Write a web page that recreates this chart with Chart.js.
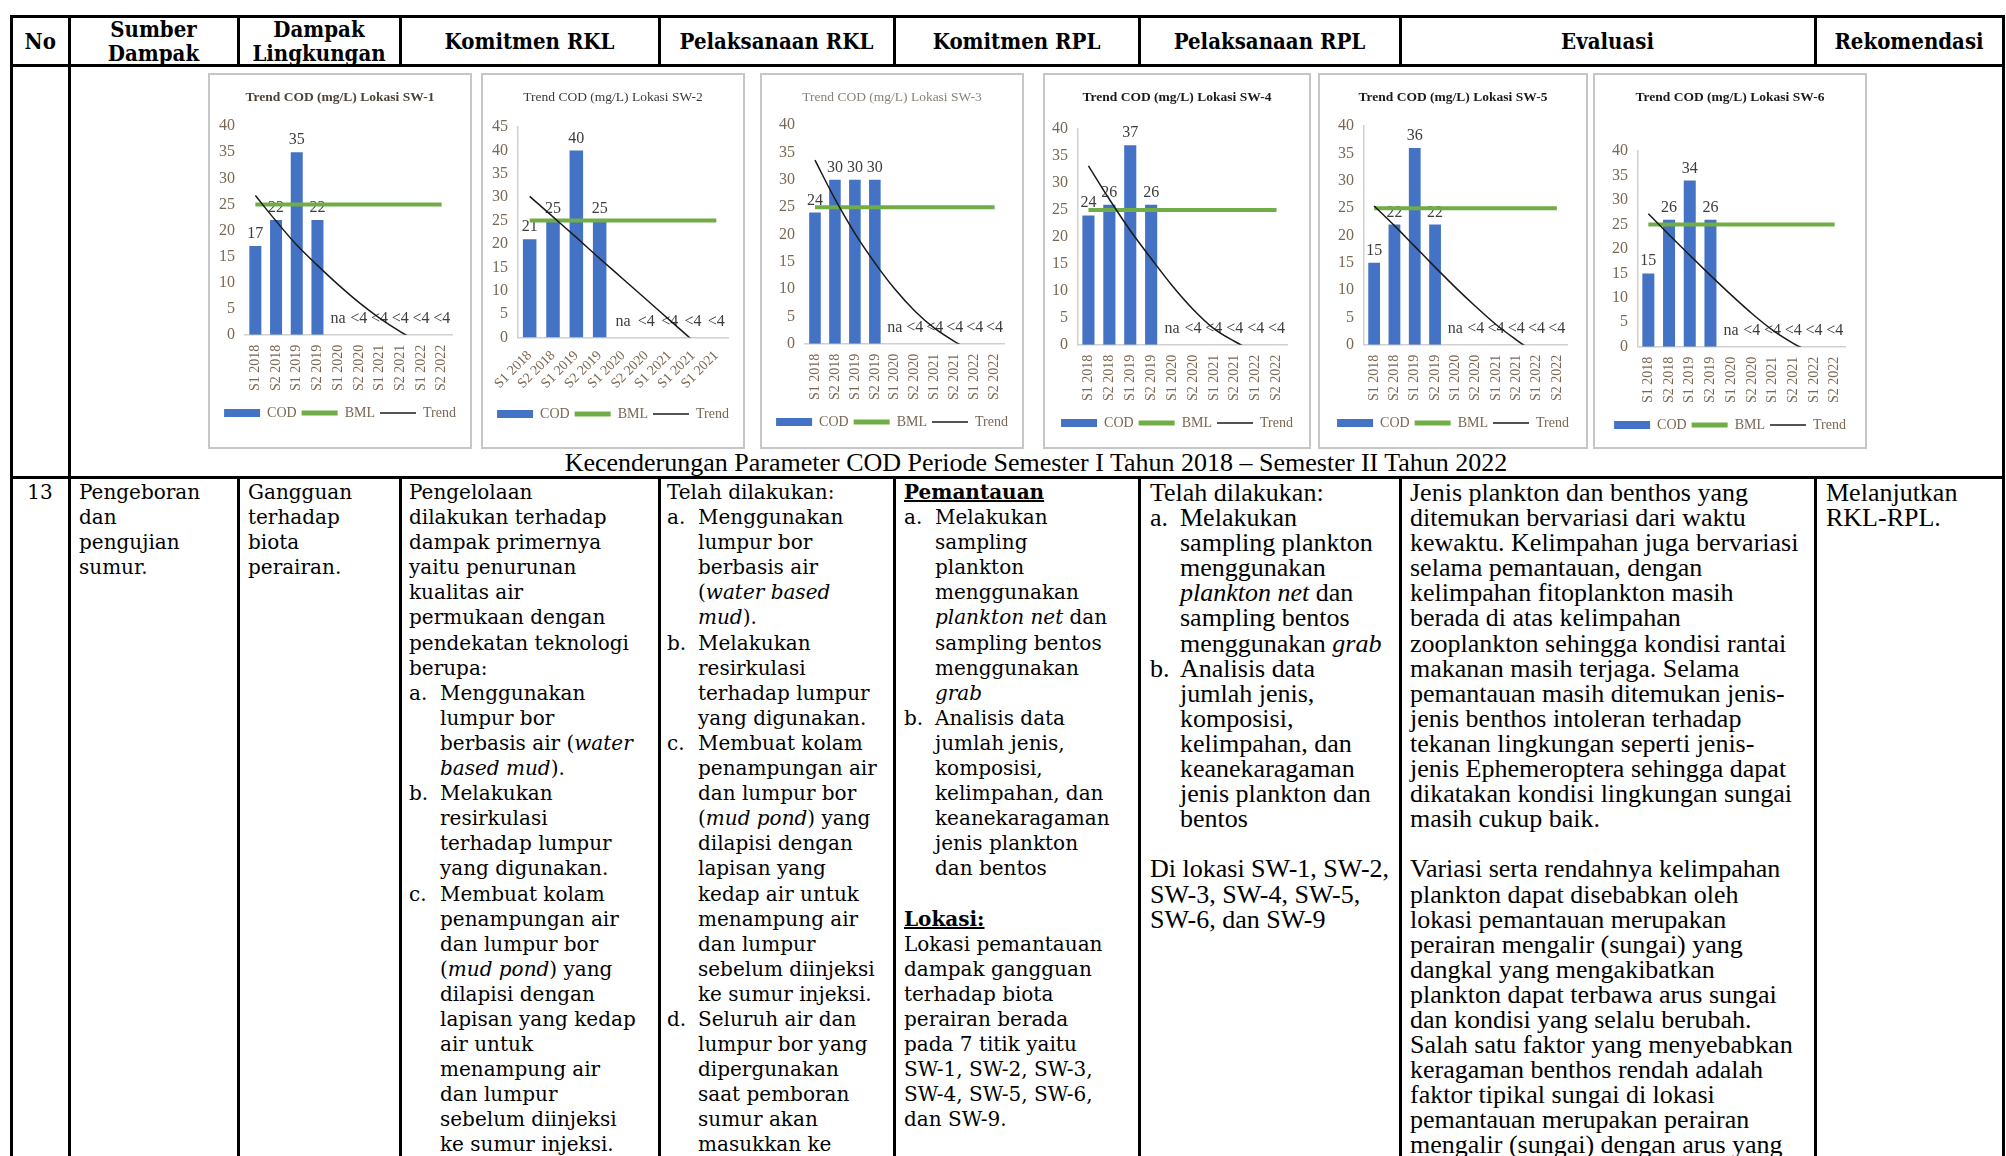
<!DOCTYPE html>
<html lang="id">
<head>
<meta charset="UTF-8">
<title>Kecenderungan Parameter COD</title>
<script src="https://cdn.jsdelivr.net/npm/chart.js@4"></script>
<style>
  body { margin:0; width:2006px; height:1156px; overflow:hidden; background:#fff; position:relative; color:#000; }
  .ln { position:absolute; background:#000; }
  .hd { position:absolute; top:17px; height:47px; display:flex; align-items:center; justify-content:center; text-align:center;
        font-family:'DejaVu Serif Condensed','DejaVu Serif',serif; font-stretch:condensed; font-weight:bold; font-size:22px; line-height:24px; }
  .box { position:absolute; top:73px; height:376px; border:2px solid #c6c6c6; box-sizing:border-box; background:#fff; }
  .box canvas { display:block; }
  .cap { position:absolute; left:69px; width:1934px; top:450px; text-align:center; font-family:'Liberation Serif',serif; font-size:26px; line-height:26px; white-space:nowrap; }
  .cell { position:absolute; top:480px; white-space:nowrap; line-height:25.1px; }
  .bk { font-family:'DejaVu Serif',serif; font-size:20px; }
  .tm { font-family:'Liberation Serif',serif; font-size:26px; }
  .m { display:inline-block; width:31px; }
  .i { padding-left:31px; }
  .tm .m { width:30px; }
  .tm .i { padding-left:30px; }
  .u { font-weight:bold; text-decoration:underline; }
</style>
</head>
<body>
<div id="grid"></div>

<div class="cap">Kecenderungan Parameter COD Periode Semester I Tahun 2018 – Semester II Tahun 2022</div>

<!-- row 13 -->
<div class="cell bk" style="left:26px;width:28px;text-align:center">13</div>
<div class="cell bk" style="left:79px">
  <div>Pengeboran</div><div>dan</div><div>pengujian</div><div>sumur.</div>
</div>
<div class="cell bk" style="left:248px">
  <div>Gangguan</div><div>terhadap</div><div>biota</div><div>perairan.</div>
</div>
<div class="cell bk" style="left:409px">
  <div>Pengelolaan</div>
  <div>dilakukan terhadap</div>
  <div>dampak primernya</div>
  <div>yaitu penurunan</div>
  <div>kualitas air</div>
  <div>permukaan dengan</div>
  <div>pendekatan teknologi</div>
  <div>berupa:</div>
  <div><span class="m">a.</span>Menggunakan</div>
  <div class="i">lumpur bor</div>
  <div class="i">berbasis air (<i>water</i></div>
  <div class="i"><i>based mud</i>).</div>
  <div><span class="m">b.</span>Melakukan</div>
  <div class="i">resirkulasi</div>
  <div class="i">terhadap lumpur</div>
  <div class="i">yang digunakan.</div>
  <div><span class="m">c.</span>Membuat kolam</div>
  <div class="i">penampungan air</div>
  <div class="i">dan lumpur bor</div>
  <div class="i">(<i>mud pond</i>) yang</div>
  <div class="i">dilapisi dengan</div>
  <div class="i">lapisan yang kedap</div>
  <div class="i">air untuk</div>
  <div class="i">menampung air</div>
  <div class="i">dan lumpur</div>
  <div class="i">sebelum diinjeksi</div>
  <div class="i">ke sumur injeksi.</div>
</div>
<div class="cell bk" style="left:667px">
  <div>Telah dilakukan:</div>
  <div><span class="m">a.</span>Menggunakan</div>
  <div class="i">lumpur bor</div>
  <div class="i">berbasis air</div>
  <div class="i">(<i>water based</i></div>
  <div class="i"><i>mud</i>).</div>
  <div><span class="m">b.</span>Melakukan</div>
  <div class="i">resirkulasi</div>
  <div class="i">terhadap lumpur</div>
  <div class="i">yang digunakan.</div>
  <div><span class="m">c.</span>Membuat kolam</div>
  <div class="i">penampungan air</div>
  <div class="i">dan lumpur bor</div>
  <div class="i">(<i>mud pond</i>) yang</div>
  <div class="i">dilapisi dengan</div>
  <div class="i">lapisan yang</div>
  <div class="i">kedap air untuk</div>
  <div class="i">menampung air</div>
  <div class="i">dan lumpur</div>
  <div class="i">sebelum diinjeksi</div>
  <div class="i">ke sumur injeksi.</div>
  <div><span class="m">d.</span>Seluruh air dan</div>
  <div class="i">lumpur bor yang</div>
  <div class="i">dipergunakan</div>
  <div class="i">saat pemboran</div>
  <div class="i">sumur akan</div>
  <div class="i">masukkan ke</div>
</div>
<div class="cell bk" style="left:904px">
  <div><span class="u">Pemantauan</span></div>
  <div><span class="m">a.</span>Melakukan</div>
  <div class="i">sampling</div>
  <div class="i">plankton</div>
  <div class="i">menggunakan</div>
  <div class="i"><i>plankton net</i> dan</div>
  <div class="i">sampling bentos</div>
  <div class="i">menggunakan</div>
  <div class="i"><i>grab</i></div>
  <div><span class="m">b.</span>Analisis data</div>
  <div class="i">jumlah jenis,</div>
  <div class="i">komposisi,</div>
  <div class="i">kelimpahan, dan</div>
  <div class="i">keanekaragaman</div>
  <div class="i">jenis plankton</div>
  <div class="i">dan bentos</div>
  <div>&nbsp;</div>
  <div><span class="u">Lokasi:</span></div>
  <div>Lokasi pemantauan</div>
  <div>dampak gangguan</div>
  <div>terhadap biota</div>
  <div>perairan berada</div>
  <div>pada 7 titik yaitu</div>
  <div>SW-1, SW-2, SW-3,</div>
  <div>SW-4, SW-5, SW-6,</div>
  <div>dan SW-9.</div>
</div>
<div class="cell tm" style="left:1150px">
  <div>Telah dilakukan:</div>
  <div><span class="m">a.</span>Melakukan</div>
  <div class="i">sampling plankton</div>
  <div class="i">menggunakan</div>
  <div class="i"><i>plankton net</i> dan</div>
  <div class="i">sampling bentos</div>
  <div class="i">menggunakan <i>grab</i></div>
  <div><span class="m">b.</span>Analisis data</div>
  <div class="i">jumlah jenis,</div>
  <div class="i">komposisi,</div>
  <div class="i">kelimpahan, dan</div>
  <div class="i">keanekaragaman</div>
  <div class="i">jenis plankton dan</div>
  <div class="i">bentos</div>
  <div>&nbsp;</div>
  <div>Di lokasi SW-1, SW-2,</div>
  <div>SW-3, SW-4, SW-5,</div>
  <div>SW-6, dan SW-9</div>
</div>
<div class="cell tm" style="left:1410px">
  <div>Jenis plankton dan benthos yang</div>
  <div>ditemukan bervariasi dari waktu</div>
  <div>kewaktu. Kelimpahan juga bervariasi</div>
  <div>selama pemantauan, dengan</div>
  <div>kelimpahan fitoplankton masih</div>
  <div>berada di atas kelimpahan</div>
  <div>zooplankton sehingga kondisi rantai</div>
  <div>makanan masih terjaga. Selama</div>
  <div>pemantauan masih ditemukan jenis-</div>
  <div>jenis benthos intoleran terhadap</div>
  <div>tekanan lingkungan seperti jenis-</div>
  <div>jenis Ephemeroptera sehingga dapat</div>
  <div>dikatakan kondisi lingkungan sungai</div>
  <div>masih cukup baik.</div>
  <div>&nbsp;</div>
  <div>Variasi serta rendahnya kelimpahan</div>
  <div>plankton dapat disebabkan oleh</div>
  <div>lokasi pemantauan merupakan</div>
  <div>perairan mengalir (sungai) yang</div>
  <div>dangkal yang mengakibatkan</div>
  <div>plankton dapat terbawa arus sungai</div>
  <div>dan kondisi yang selalu berubah.</div>
  <div>Salah satu faktor yang menyebabkan</div>
  <div>keragaman benthos rendah adalah</div>
  <div>faktor tipikal sungai di lokasi</div>
  <div>pemantauan merupakan perairan</div>
  <div>mengalir (sungai) dengan arus yang</div>
</div>
<div class="cell tm" style="left:1826px">
  <div>Melanjutkan</div>
  <div>RKL-RPL.</div>
</div>

<script>
// ---- data ----
const locations = ['SW-1', 'SW-2', 'SW-3', 'SW-4', 'SW-5', 'SW-6'];
const periods = ['S1 2018', 'S2 2018', 'S1 2019', 'S2 2019', 'S1 2020', 'S2 2020', 'S1 2021', 'S2 2021', 'S1 2022', 'S2 2022'];
const periodsSW2 = ['S1 2018', 'S2 2018', 'S1 2019', 'S2 2019', 'S1 2020', 'S2 2020', 'S1 2021', 'S1 2021', 'S1 2021'];

const codSW1 = [17, 22, 35, 22, null, null, null, null, null, null];
const codSW2 = [21, 25, 40, 25, null, null, null, null, null];
const codSW3 = [24, 30, 30, 30, null, null, null, null, null, null];
const codSW4 = [24, 26, 37, 26, null, null, null, null, null, null];
const codSW5 = [15, 22, 36, 22, null, null, null, null, null, null];
const codSW6 = [15, 26, 34, 26, null, null, null, null, null, null];

const codTextSW1 = ['17', '22', '35', '22', 'na', '<4', '<4', '<4', '<4', '<4'];
const codTextSW2 = ['21', '25', '40', '25', 'na', '<4', '<4', '<4', '<4'];
const codTextSW3 = ['24', '30', '30', '30', 'na', '<4', '<4', '<4', '<4', '<4'];
const codTextSW4 = ['24', '26', '37', '26', 'na', '<4', '<4', '<4', '<4', '<4'];
const codTextSW5 = ['15', '22', '36', '22', 'na', '<4', '<4', '<4', '<4', '<4'];
const codTextSW6 = ['15', '26', '34', '26', 'na', '<4', '<4', '<4', '<4', '<4'];

const bml10 = [25, 25, 25, 25, 25, 25, 25, 25, 25, 25];
const bml9 = [25, 25, 25, 25, 25, 25, 25, 25, 25];

// trend lines as drawn (they run below 0 after ~S2 2021 and are cut at the axis)
const trendSW1 = [26.7, 21.8, 17.2, 13.3, 9.6, 6.2, 3.2, 0.6, -1.7, null];
const trendSW2 = [30.2, 25.8, 21.4, 16.9, 12.5, 8.1, 3.7, -0.7, null];
const trendSW3 = [33.6, 26.5, 20.2, 14.8, 10.0, 6.0, 2.8, 0.4, -1.6, null];
const trendSW4 = [33.2, 27.0, 21.2, 16.0, 11.0, 6.6, 3.0, 0.6, -1.5, null];
const trendSW5 = [25.4, 21.8, 18.0, 14.2, 10.5, 7.0, 3.7, 0.9, -1.7, null];
const trendSW6 = [27.2, 22.9, 18.7, 14.6, 10.6, 6.8, 3.4, 0.7, -1.5, null];

const yMax = [40, 45, 40, 40, 40, 40];

// ---- page layout ----
const colEdges = [11.5, 69, 238, 400, 659, 894, 1139, 1400, 1815, 2003];
const headers = ['No', 'Sumber<br>Dampak', 'Dampak<br>Lingkungan', 'Komitmen RKL', 'Pelaksanaan RKL',
                 'Komitmen RPL', 'Pelaksanaan RPL', 'Evaluasi', 'Rekomendasi'];
const boxLeft = [208, 481, 760, 1043, 1318, 1593];
const boxRight = [472, 745, 1024, 1311, 1588, 1867];

const grid = document.getElementById('grid');
function line(x, y, w, h) {
    const d = document.createElement('div');
    d.className = 'ln';
    d.style.cssText = `left:${x}px;top:${y}px;width:${w}px;height:${h}px`;
    grid.appendChild(d);
}
const lw = 3;
const x0 = colEdges[0] - lw / 2, x1 = colEdges[colEdges.length - 1] + lw / 2;
[14.5, 63.5, 475.5].forEach(y => line(x0, y, x1 - x0, lw));
colEdges.forEach((x, i) => {
    if (i < 2 || i === colEdges.length - 1) {
        line(x - lw / 2, 14.5, lw, 1156);
    } else {
        line(x - lw / 2, 14.5, lw, 51);
        line(x - lw / 2, 475.5, lw, 700);
    }
});
headers.forEach((h, i) => {
    const d = document.createElement('div');
    d.className = 'hd';
    d.style.left = colEdges[i] + 'px';
    d.style.width = (colEdges[i + 1] - colEdges[i]) + 'px';
    d.innerHTML = h;
    document.body.appendChild(d);
});

// ---- charts ----
Chart.defaults.font.family = "'Liberation Serif', serif";
const tickColor = '#7a6753';

const series = [
    { cats: periods,    cod: codSW1, text: codTextSW1, bml: bml10, trend: trendSW1 },
    { cats: periodsSW2, cod: codSW2, text: codTextSW2, bml: bml9,  trend: trendSW2 },
    { cats: periods,    cod: codSW3, text: codTextSW3, bml: bml10, trend: trendSW3 },
    { cats: periods,    cod: codSW4, text: codTextSW4, bml: bml10, trend: trendSW4 },
    { cats: periods,    cod: codSW5, text: codTextSW5, bml: bml10, trend: trendSW5 },
    { cats: periods,    cod: codSW6, text: codTextSW6, bml: bml10, trend: trendSW6 }
];

// look of each chart box
const titleBold = [true, false, false, true, true, true];
const titleColor = ['#4d4135', '#3a3a3a', '#8a8078', '#1a1a1a', '#1a1a1a', '#1a1a1a'];
const showYLine = [false, true, false, true, true, true];
const labelRotation = [90, 45, 90, 90, 90, 90];
const titleGap = [21, 22, 20, 24, 21, 46];
const bottomPad = [17, 16, 8, 7, 7, 5];
const yAxisWidth = [33, 33, 41, 31, 42, 41];
const rightSpace = [16, 13, 10, 20, 17, 18];

// data labels above the bars; drawn before the lines so the lines cross them
const valueLabels = {
    id: 'valueLabels',
    afterDatasetDraw(chart, args) {
        if (args.index !== 0) return;
        const ds = chart.data.datasets[0];
        const { ctx, scales } = chart;
        ctx.save();
        ctx.font = "16px 'Liberation Serif'";
        ctx.fillStyle = '#3d3d3d';
        ctx.textAlign = 'center';
        ds.valueText.forEach((t, i) => {
            const x = scales.x.getPixelForValue(i);
            const v = ds.data[i];
            if (v == null) {
                ctx.textBaseline = 'middle';
                ctx.fillText(t, x, scales.y.getPixelForValue(0) - 16);
            } else {
                ctx.textBaseline = 'alphabetic';
                ctx.fillText(t, x, scales.y.getPixelForValue(v) - 8);
            }
        });
        ctx.restore();
    }
};

series.forEach((s, k) => {
    const box = document.createElement('div');
    box.className = 'box';
    const w = boxRight[k] - boxLeft[k];
    box.style.left = boxLeft[k] + 'px';
    box.style.width = w + 'px';
    const cv = document.createElement('canvas');
    cv.width = w - 4;
    cv.height = 372;
    box.appendChild(cv);
    document.body.appendChild(box);

    new Chart(cv, {
        type: 'bar',
        data: {
            labels: s.cats,
            datasets: [
                { type: 'bar', label: 'COD', data: s.cod, valueText: s.text, backgroundColor: '#4472c4',
                  barPercentage: 0.58, categoryPercentage: 1, order: 3 },
                { type: 'line', label: 'BML', data: s.bml, borderColor: '#70ad47', borderWidth: 4,
                  pointRadius: 0, order: 2 },
                { type: 'line', label: 'Trend', data: s.trend, borderColor: '#1a1a1a', borderWidth: 1.5,
                  pointRadius: 0, cubicInterpolationMode: 'monotone', order: 1 }
            ]
        },
        options: {
            responsive: false,
            animation: false,
            events: [],
            layout: { padding: { left: 2, right: 2, top: 0, bottom: bottomPad[k] } },
            plugins: {
                title: {
                    display: true,
                    text: 'Trend COD (mg/L) Lokasi ' + locations[k],
                    color: titleColor[k],
                    font: { size: 13.5, weight: titleBold[k] ? 'bold' : 'normal' },
                    padding: { top: 14, bottom: titleGap[k] }
                },
                legend: {
                    position: 'bottom',
                    labels: {
                        usePointStyle: true,
                        pointStyleWidth: 36,
                        boxHeight: 8,
                        padding: 5,
                        color: tickColor,
                        font: { size: 14 },
                        generateLabels: chart => chart.data.datasets.map((d, i) => ({
                            text: d.label,
                            datasetIndex: i,
                            hidden: false,
                            fontColor: tickColor,
                            pointStyle: d.type === 'bar' ? 'rect' : 'line',
                            fillStyle: d.type === 'bar' ? d.backgroundColor : 'rgba(0,0,0,0)',
                            strokeStyle: d.type === 'bar' ? d.backgroundColor : d.borderColor,
                            lineWidth: d.type === 'bar' ? 0 : (d.label === 'BML' ? 5 : 1.5)
                        }))
                    }
                },
                tooltip: { enabled: false }
            },
            scales: {
                x: {
                    grid: { display: false, drawTicks: false },
                    border: { display: true, color: '#d0d0d0', width: 1.5 },
                    ticks: { color: tickColor, font: { size: 14 }, padding: 10, autoSkip: false,
                             minRotation: labelRotation[k], maxRotation: labelRotation[k] }
                },
                y: {
                    min: 0,
                    max: yMax[k],
                    grid: { display: false, drawTicks: false },
                    border: { display: showYLine[k], color: '#d0d0d0', width: 1.5 },
                    ticks: { stepSize: 5, color: tickColor, font: { size: 16 }, padding: 10 },
                    afterFit: a => { a.width = yAxisWidth[k]; }
                },
                yRight: {
                    position: 'right',
                    grid: { display: false, drawTicks: false },
                    border: { display: false },
                    ticks: { display: false },
                    afterFit: a => { a.width = rightSpace[k]; }
                }
            }
        },
        plugins: [valueLabels]
    });
});
</script>
</body>
</html>
